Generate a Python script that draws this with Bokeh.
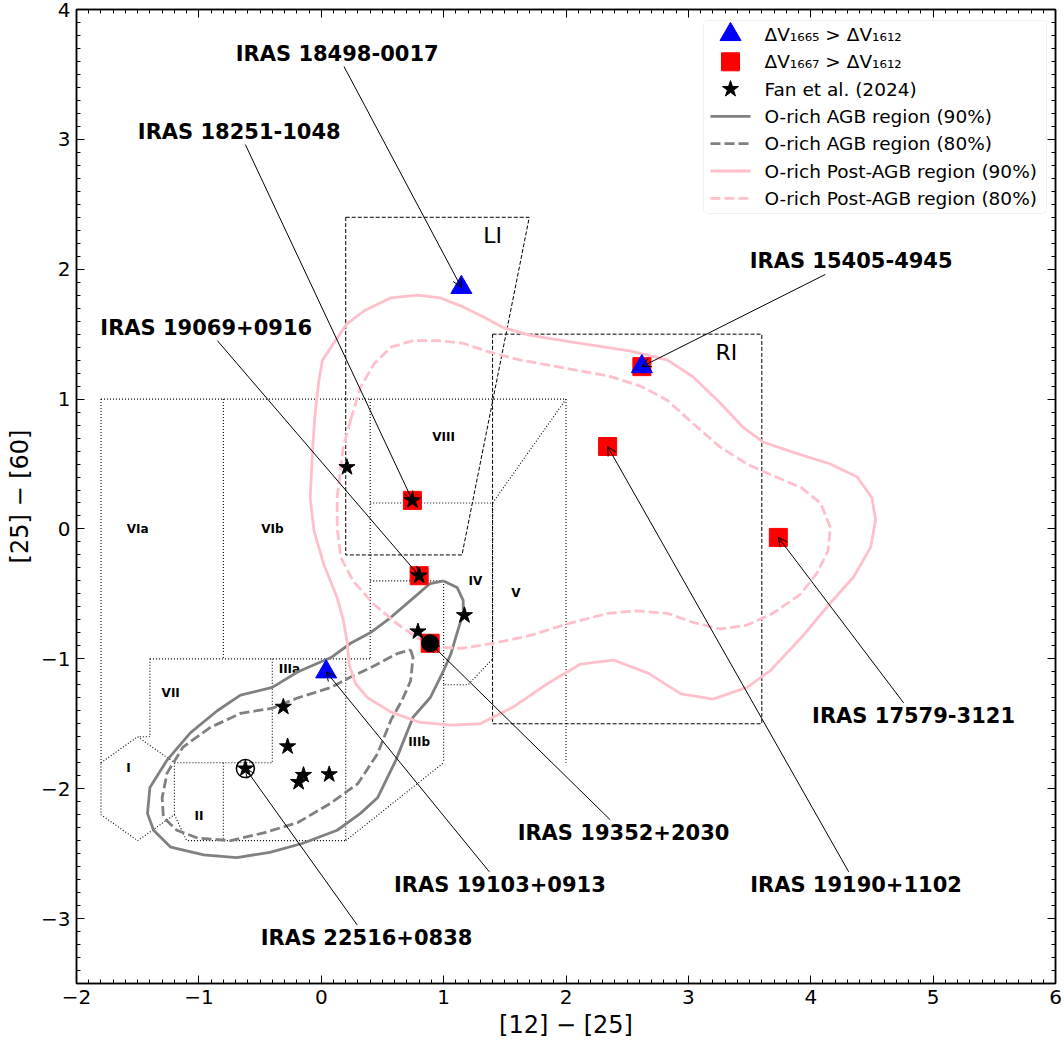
import numpy as np
from bokeh.plotting import figure
from bokeh.models import (Range1d, LinearAxis, SingleIntervalTicker, BoxAnnotation,
                          Arrow, OpenHead, ColumnDataSource)
from bokeh.core.properties import value
from bokeh.embed import file_html
from bokeh.resources import INLINE

# ---------------- data ----------------
blue_x = [1.145, 2.62, 0.04]
blue_y = [1.86, 1.25, -1.10]

red_x = [2.62, 2.34, 3.735, 0.745, 0.80, 0.89]
red_y = [1.25, 0.635, -0.065, 0.22, -0.36, -0.88]

star_x = [0.21, 0.745, 0.80, 1.17, 0.79, -0.31, -0.275, -0.145, -0.185, 0.065, -0.62]
star_y = [0.475, 0.22, -0.36, -0.665, -0.79, -1.37, -1.675, -1.895, -1.95, -1.89, -1.845]

dot_x = [0.89]
dot_y = [-0.88]
ring_x = [-0.62]
ring_y = [-1.845]

names = ["IRAS 18498-0017", "IRAS 18251-1048", "IRAS 19069+0916", "IRAS 15405-4945",
         "IRAS 17579-3121", "IRAS 19190+1102", "IRAS 19352+2030", "IRAS 19103+0913",
         "IRAS 22516+0838"]
name_x = [0.13, -0.67, -0.94, 4.33, 4.84, 4.37, 2.47, 1.46, 0.37]
name_y = [3.66, 3.06, 1.55, 2.06, -1.44, -2.74, -2.34, -2.74, -3.15]
target_x = [1.145, 0.745, 0.80, 2.62, 3.735, 2.34, 0.89, 0.04, -0.62]
target_y = [1.86, 0.22, -0.36, 1.25, -0.065, 0.635, -0.88, -1.10, -1.845]

agb90_x = [1.00, 1.11, 1.16, 1.16, 1.11, 1.06, 1.00, 0.89, 0.75, 0.61, 0.46, 0.32, 0.13, -0.15,
           -0.42, -0.69, -0.96, -1.23, -1.37, -1.42, -1.40, -1.26, -1.07, -0.85, -0.66, -0.40,
           -0.19, 0.08, 0.24, 0.40, 0.57, 0.73, 0.89, 1.00]
agb90_y = [-0.40, -0.45, -0.55, -0.65, -0.80, -0.96, -1.09, -1.30, -1.45, -1.78, -2.07, -2.19,
           -2.32, -2.42, -2.49, -2.53, -2.51, -2.45, -2.32, -2.19, -1.99, -1.78, -1.57, -1.40,
           -1.28, -1.22, -1.10, -0.99, -0.88, -0.80, -0.68, -0.55, -0.42, -0.40]

agb80_x = [0.73, 0.75, 0.73, 0.66, 0.57, 0.46, 0.30, 0.08, -0.19, -0.47, -0.74, -1.01, -1.18,
           -1.29, -1.30, -1.26, -1.13, -0.91, -0.66, -0.40, -0.19, 0.08, 0.24, 0.40, 0.62, 0.73]
agb80_y = [-0.93, -0.99, -1.17, -1.32, -1.47, -1.73, -1.96, -2.11, -2.26, -2.34, -2.40, -2.38,
           -2.32, -2.22, -2.07, -1.88, -1.68, -1.53, -1.42, -1.38, -1.30, -1.22, -1.14, -1.07,
           -0.96, -0.93]

pagb90_x = [-0.02, 0.01, 0.08, 0.21, 0.35, 0.57, 0.79, 0.97, 1.16, 1.33, 1.49, 1.71, 2.04, 2.53,
            2.83, 3.04, 3.26, 3.45, 3.61, 3.89, 4.16, 4.38, 4.50, 4.53, 4.49, 4.35, 4.16, 3.92,
            3.67, 3.48, 3.20, 2.94, 2.67, 2.39, 2.12, 1.85, 1.57, 1.30, 1.06, 0.81, 0.57, 0.38,
            0.28, 0.23, 0.21, 0.18, 0.13, 0.02, -0.06, -0.09, -0.07, -0.05, -0.02]
pagb90_y = [1.14, 1.30, 1.40, 1.58, 1.68, 1.78, 1.80, 1.78, 1.71, 1.63, 1.55, 1.49, 1.44, 1.37,
            1.30, 1.17, 0.97, 0.78, 0.67, 0.58, 0.50, 0.40, 0.24, 0.07, -0.14, -0.37, -0.57,
            -0.84, -1.09, -1.22, -1.31, -1.27, -1.11, -1.01, -1.04, -1.19, -1.37, -1.50, -1.51,
            -1.49, -1.41, -1.30, -1.19, -1.05, -0.86, -0.70, -0.53, -0.27, -0.01, 0.24, 0.63,
            0.89, 1.14]

pagb80_x = [0.24, 0.32, 0.43, 0.57, 0.75, 0.95, 1.16, 1.38, 1.63, 1.98, 2.34, 2.61, 2.83, 3.04,
            3.26, 3.48, 3.69, 3.92, 4.08, 4.16, 4.14, 4.05, 3.92, 3.69, 3.48, 3.26, 3.04, 2.83,
            2.58, 2.34, 2.01, 1.71, 1.41, 1.14, 0.97, 0.79, 0.62, 0.43, 0.26, 0.16, 0.13, 0.13,
            0.18, 0.24]
pagb80_y = [0.84, 1.09, 1.27, 1.40, 1.45, 1.45, 1.43, 1.36, 1.30, 1.24, 1.18, 1.10, 0.99, 0.81,
            0.63, 0.50, 0.41, 0.32, 0.20, 0.01, -0.17, -0.34, -0.50, -0.65, -0.74, -0.77, -0.72,
            -0.65, -0.63, -0.65, -0.73, -0.82, -0.88, -0.92, -0.91, -0.84, -0.73, -0.58, -0.40,
            -0.22, 0.01, 0.24, 0.63, 0.84]

# van der Veen & Habing region boundaries (dotted)
vdvh_xs = [[-1.8, 2.0], [-1.8, -1.8],
           [-1.8, -1.5, -1.2, -1.2, -1.5, -1.8, -1.8],
           [-0.8, -0.8], [-1.4, 0.4], [-1.4, -1.4, -1.5], [-1.2, -0.4], [-0.4, -0.4],
           [-0.8, -0.8], [-1.2, -1.1, 0.2], [0.2, 0.2], [0.4, 0.4], [0.4, 1.4], [0.4, 1.0],
           [1.0, 1.0, 1.2, 1.4], [1.4, 1.4], [2.0, 1.4], [2.0, 2.0], [0.2, 1.0], [1.0, 1.0]]
vdvh_ys = [[1.0, 1.0], [1.0, -1.8],
           [-1.8, -1.6, -1.8, -2.2, -2.4, -2.2, -1.8],
           [1.0, -1.0], [-1.0, -1.0], [-1.0, -1.6, -1.6], [-1.8, -1.8], [-1.0, -1.8],
           [-1.8, -2.4], [-2.2, -2.4, -2.4], [-1.0, -2.4], [1.0, -1.0], [0.2, 0.2], [-0.4, -0.4],
           [-0.4, -1.2, -1.2, -1.0], [0.2, -1.0], [1.0, 0.2], [1.0, -1.8], [-2.4, -1.8], [-1.2, -1.8]]

# LI / RI regions (dashed)
box_xs = [[0.2, 1.7, 1.15, 0.2, 0.2], [1.4, 3.6, 3.6, 1.4, 1.4]]
box_ys = [[2.4, 2.4, -0.2, -0.2, 2.4], [1.5, 1.5, -1.5, -1.5, 1.5]]

region_names = ["VIa", "VIb", "VII", "I", "II", "IIIa", "IIIb", "IV", "V", "VIII"]
region_x = [-1.5, -0.4, -1.23, -1.575, -1.0, -0.26, 0.80, 1.26, 1.59, 1.0]
region_y = [0.0, 0.0, -1.26, -1.84, -2.21, -1.08, -1.64, -0.40, -0.49, 0.71]

zone_names = ["LI", "RI"]
zone_x = [1.40, 3.31]
zone_y = [2.26, 1.36]

legend_labels = ["\u0394V\u2081\u2086\u2086\u2085 > \u0394V\u2081\u2086\u2081\u2082",
                 "\u0394V\u2081\u2086\u2086\u2087 > \u0394V\u2081\u2086\u2081\u2082",
                 "Fan et al. (2024)",
                 "O-rich AGB region (90%)", "O-rich AGB region (80%)",
                 "O-rich Post-AGB region (90%)", "O-rich Post-AGB region (80%)"]

x_ticks = [-2, -1, 0, 1, 2, 3, 4, 5, 6]
y_ticks = [-3, -2, -1, 0, 1, 2, 3, 4]

# ---------------- figure ----------------
FONT = "DejaVu Sans"
FW, FH = 979, 974
X0, X1, Y0, Y1 = -2, 6, -3.5, 4
p = figure(frame_width=FW, frame_height=FH, x_range=Range1d(X0, X1), y_range=Range1d(Y0, Y1),
           output_backend="svg", toolbar_location=None,
           min_border_left=76, min_border_top=9, min_border_right=9, min_border_bottom=20)
p.xgrid.visible = False
p.ygrid.visible = False
p.outline_line_color = "black"
p.outline_line_width = 1.5
p.background_fill_color = "white"

sx = FW / (X1 - X0)
sy = FH / (Y1 - Y0)


def fx(px):  # frame-relative pixel -> data x
    return X0 + px / sx


def fy(py):  # frame-relative pixel (from top) -> data y
    return Y1 - py / sy


def style_axis(ax):
    ax.ticker = SingleIntervalTicker(interval=1, num_minor_ticks=10)
    ax.major_tick_in = 8
    ax.major_tick_out = 0
    ax.minor_tick_in = 4
    ax.minor_tick_out = 0
    ax.axis_line_width = 1.5
    ax.axis_line_color = "black"
    ax.major_tick_line_color = "black"
    ax.minor_tick_line_color = "black"
    ax.major_label_text_font = FONT
    ax.major_label_text_color = "black"
    ax.major_label_text_font_size = "20px"


style_axis(p.xaxis[0])
style_axis(p.yaxis[0])
p.xaxis[0].major_label_overrides = {t: str(t).replace("-", "\u2212") for t in x_ticks}
p.yaxis[0].major_label_overrides = {t: str(t).replace("-", "\u2212") for t in y_ticks}
p.xaxis[0].axis_label = "[12] \u2212 [25]"
p.yaxis[0].axis_label = "[25] \u2212 [60]"
for ax in (p.xaxis[0], p.yaxis[0]):
    ax.axis_label_text_font = FONT
    ax.axis_label_text_font_size = "24px"
    ax.axis_label_text_font_style = "normal"
    ax.axis_label_text_color = "black"
    ax.axis_label_standoff = 4
    ax.major_label_standoff = 6

for side, ticks in (("above", x_ticks), ("right", y_ticks)):
    ax = LinearAxis()
    style_axis(ax)
    ax.major_label_text_font_size = "1px"
    ax.major_label_standoff = 0
    ax.major_label_overrides = {t: "" for t in ticks}
    p.add_layout(ax, side)

# region boundaries
p.multi_line(vdvh_xs, vdvh_ys, line_color="black", line_width=1.1, line_dash="1 2")
p.multi_line(box_xs, box_ys, line_color="black", line_width=1, line_dash="4 2")

p.text(region_x, region_y, text=region_names, text_font=value(FONT), text_font_style="bold",
       text_font_size="12px", text_align="center", text_baseline="middle", text_color="black")
p.text(zone_x, zone_y, text=zone_names, text_font=value(FONT), text_font_size="22px",
       text_align="center", text_baseline="middle", text_color="black")

# contours
LW = 2.8
DASH = "10 4"
p.line(agb90_x, agb90_y, line_color="gray", line_width=LW)
p.line(agb80_x, agb80_y, line_color="gray", line_width=LW, line_dash=DASH)
p.line(pagb90_x, pagb90_y, line_color="pink", line_width=LW)
p.line(pagb80_x, pagb80_y, line_color="pink", line_width=LW, line_dash=DASH)

# markers
p.scatter(red_x, red_y, marker="square", size=18, fill_color="red", line_color="red")
p.scatter(blue_x, blue_y, marker="triangle", size=21, fill_color="blue", line_color="blue")
p.scatter(dot_x, dot_y, marker="circle", size=17, fill_color="black", line_color="black")
p.scatter(star_x, star_y, marker="star", size=17, fill_color="black", line_color="black")
p.scatter(ring_x, ring_y, marker="circle", size=18, fill_color=None, line_color="black",
          line_width=1.5)

# annotations
p.text(name_x, name_y, text=names, text_font=value(FONT), text_font_style="bold",
       text_font_size="21px", text_align="center", text_baseline="middle", text_color="black")

hw, hh = 106.0, 13.0
xs0, ys0 = [], []
for tx, ty, px, py in zip(name_x, name_y, target_x, target_y):
    dx = (px - tx) * sx
    dy = (py - ty) * sy
    t = min(hw / abs(dx) if dx else 1e9, hh / abs(dy) if dy else 1e9)
    xs0.append(tx + (px - tx) * t)
    ys0.append(ty + (py - ty) * t)
arrow_src = ColumnDataSource(dict(x0=xs0, y0=ys0, x1=target_x, y1=target_y))
p.add_layout(Arrow(end=OpenHead(size=9, line_width=1, line_color="black"),
                   x_start="x0", y_start="y0", x_end="x1", y_end="y1",
                   line_color="black", line_width=1, source=arrow_src))

# legend (drawn by hand so that markers keep their plotted size)
leg_box = BoxAnnotation(left=fx(627), right=fx(970), top=fy(11), bottom=fy(204),
                        fill_color="white", fill_alpha=0.8, line_color="#cccccc",
                        line_width=1, border_radius=4, level="underlay")
p.add_layout(leg_box)
row_py = [25 + 27.3 * i for i in range(7)]
gx = fx(654)
p.scatter([gx], [fy(row_py[0])], marker="triangle", size=21, fill_color="blue", line_color="blue")
p.scatter([gx], [fy(row_py[1])], marker="square", size=18, fill_color="red", line_color="red")
p.scatter([gx], [fy(row_py[2])], marker="star", size=17, fill_color="black", line_color="black")
seg_x = [fx(634), fx(674)]
p.line(seg_x, [fy(row_py[3])] * 2, line_color="gray", line_width=LW)
p.line(seg_x, [fy(row_py[4])] * 2, line_color="gray", line_width=LW, line_dash=DASH)
p.line(seg_x, [fy(row_py[5])] * 2, line_color="pink", line_width=LW)
p.line(seg_x, [fy(row_py[6])] * 2, line_color="pink", line_width=LW, line_dash=DASH)
p.text([fx(688)] * 7, [fy(r) for r in row_py], text=legend_labels, text_font=value(FONT),
       text_font_size="18.5px", text_align="left", text_baseline="middle", text_color="black")

open("out.html", "w").write(file_html(p, INLINE))
